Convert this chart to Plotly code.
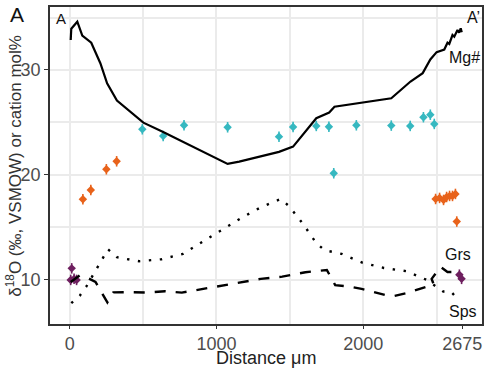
import plotly.graph_objects as go

# ---- data ----
mg_x = [7, 11, 52, 86, 147, 209, 255, 322, 502, 637, 1076, 1155, 1426, 1522, 1680, 1768, 1804,
        2191, 2322, 2405, 2457, 2500, 2552, 2563, 2574, 2586, 2608, 2620, 2642, 2653, 2664, 2671]
mg_y = [32.86, 33.93, 34.6, 33.27, 32.6, 30.64, 28.73, 27.08, 24.98, 24.1, 21.05, 21.27, 22.2, 22.7,
        25.4, 25.94, 26.5, 27.3, 28.9, 29.7, 31.0, 31.7, 31.95, 32.38, 32.6, 32.48, 33.33, 33.17,
        33.81, 33.55, 33.97, 33.59]

sps_x = [11, 68, 113, 187, 261, 322, 473, 626, 772, 907, 1032, 1167, 1302, 1437, 1493, 1590, 1678,
         1736, 1853, 1993, 2140, 2293, 2432, 2545, 2597, 2649]
sps_y = [7.78, 8.48, 9.36, 11.21, 12.92, 12.16, 11.78, 11.97, 12.48, 13.65, 14.76, 15.88, 16.92,
         17.71, 17.05, 15.33, 13.55, 12.83, 12.48, 11.65, 11.14, 10.83, 10.0, 8.89, 8.89, 8.1]

grs_x = [7, 68, 115, 176, 257, 297, 412, 527, 649, 764, 998, 1144, 1302, 1448, 1606, 1752, 1786,
         1809, 1910, 1989, 2147, 2214, 2293, 2417, 2480, 2466, 2527, 2574, 2608, 2642]
grs_y = [9.81, 10.43, 10.24, 9.81, 7.86, 8.81, 8.83, 8.79, 8.92, 8.79, 9.36, 9.69, 10.1, 10.31,
         10.73, 10.95, 10.07, 9.5, 9.36, 9.14, 8.57, 8.48, 8.73, 9.30, 9.57, 10.1, 11.24, 10.76,
         10.76, 10.29]

cyan_x = [495, 637, 779, 1076, 1426, 1522, 1680, 1766, 1799, 1953, 2191, 2320, 2410, 2457, 2484]
cyan_y = [24.35, 23.71, 24.73, 24.54, 23.65, 24.57, 24.67, 24.6, 20.16, 24.73, 24.70, 24.67,
          25.5, 25.74, 24.86]

orange_x = [90, 144, 250, 320, 2493, 2520, 2547, 2568, 2588, 2608, 2628, 2637]
orange_y = [17.69, 18.57, 20.54, 21.30, 17.71, 17.81, 17.62, 17.9, 18.0, 18.0, 18.19, 15.56]

purple_x = [14, 7, 30, 47, 2655, 2670]
purple_y = [11.1, 10.0, 10.1, 10.0, 10.5, 10.1]

err = 0.5

x_ticks = [0, 1000, 2000, 2675]
x_ticklabels = ["0", "1000", "2000", "2675"]
y_ticks = [10, 20, 30]

CYAN = "#36B8C0"
ORANGE = "#E8621A"
PURPLE = "#6E1F5F"

fig = go.Figure()

for xs, ys, col in [(cyan_x, cyan_y, CYAN), (orange_x, orange_y, ORANGE), (purple_x, purple_y, PURPLE)]:
    fig.add_trace(go.Scatter(
        x=xs, y=ys, mode="markers",
        marker=dict(symbol="diamond", size=6.5, color=col, line=dict(width=0)),
        error_y=dict(type="constant", value=err, color=col, thickness=1.6, width=0),
        showlegend=False, hoverinfo="skip"))

fig.add_trace(go.Scatter(x=grs_x, y=grs_y, mode="lines",
                         line=dict(color="black", width=2.4, dash="11px,10px"),
                         showlegend=False))
fig.add_trace(go.Scatter(x=sps_x, y=sps_y, mode="lines",
                         line=dict(color="black", width=2.4, dash="2.4px,8.6px"),
                         showlegend=False))
fig.add_trace(go.Scatter(x=mg_x, y=mg_y, mode="lines",
                         line=dict(color="black", width=2.2),
                         showlegend=False))

FONT = "Liberation Sans, Arial, sans-serif"
GRID = "#EBEBEB"

fig.update_layout(
    width=487, height=369,
    margin=dict(l=50, r=3, t=7, b=45),
    paper_bgcolor="white", plot_bgcolor="white",
    font=dict(family=FONT, size=18, color="#4D4D4D"),
    xaxis=dict(
        range=[-134, 2809], tickmode="array", tickvals=x_ticks, ticktext=x_ticklabels,
        showgrid=False, zeroline=False,
        ticks="outside", ticklen=3, tickwidth=1.4, tickcolor="#333333",
        tickfont=dict(size=18, color="#4D4D4D"),
        showline=True, linecolor="#333333", linewidth=1.6, mirror=True,
        minor=dict(tickmode="array", tickvals=[0, 500, 1000, 1500, 2000, 2500],
                   showgrid=True, gridcolor=GRID, gridwidth=1.8, ticks=""),
    ),
    yaxis=dict(
        range=[5.8, 36.0], tickmode="array", tickvals=y_ticks,
        showgrid=False, zeroline=False,
        ticks="outside", ticklen=4, tickwidth=1.4, tickcolor="#333333",
        tickfont=dict(size=18, color="#4D4D4D"),
        showline=True, linecolor="#333333", linewidth=1.6, mirror=True,
        minor=dict(tickmode="array", tickvals=[10, 15, 20, 25, 30, 35],
                   showgrid=True, gridcolor=GRID, gridwidth=1.8, ticks=""),
    ),
    annotations=[
        dict(text="δ<sup>18</sup>O (‰, VSMOW) or cation mol%", xref="paper", yref="paper",
             x=-0.085, y=0.5, xanchor="center", yanchor="middle", textangle=-90,
             showarrow=False, font=dict(size=17, color="#333333")),
        dict(text="Distance μm", xref="paper", yref="paper", x=0.5, y=-0.108,
             xanchor="center", yanchor="middle", showarrow=False,
             font=dict(size=18, color="#222222")),
        dict(text="A", xref="paper", yref="paper", x=-0.076, y=0.976,
             xanchor="center", yanchor="middle", showarrow=False,
             font=dict(size=21, color="#111111")),
        dict(text="A", xref="paper", yref="paper", x=0.025, y=0.965,
             xanchor="center", yanchor="middle", showarrow=False,
             font=dict(size=15, color="#111111")),
        dict(text="A’", xref="paper", yref="paper", x=0.98, y=0.968,
             xanchor="center", yanchor="middle", showarrow=False,
             font=dict(size=16, color="#111111")),
        dict(text="Mg#", xref="paper", yref="paper", x=0.96, y=0.84,
             xanchor="center", yanchor="middle", showarrow=False,
             font=dict(size=16, color="#111111")),
        dict(text="Grs", xref="paper", yref="paper", x=0.945, y=0.22,
             xanchor="center", yanchor="middle", showarrow=False,
             font=dict(size=16, color="#111111")),
        dict(text="Sps", xref="paper", yref="paper", x=0.955, y=0.04,
             xanchor="center", yanchor="middle", showarrow=False,
             font=dict(size=16, color="#111111")),
    ],
)

fig.write_html("out.html", config={"displayModeBar": False},
               post_script="document.body.style.margin='0px';")
